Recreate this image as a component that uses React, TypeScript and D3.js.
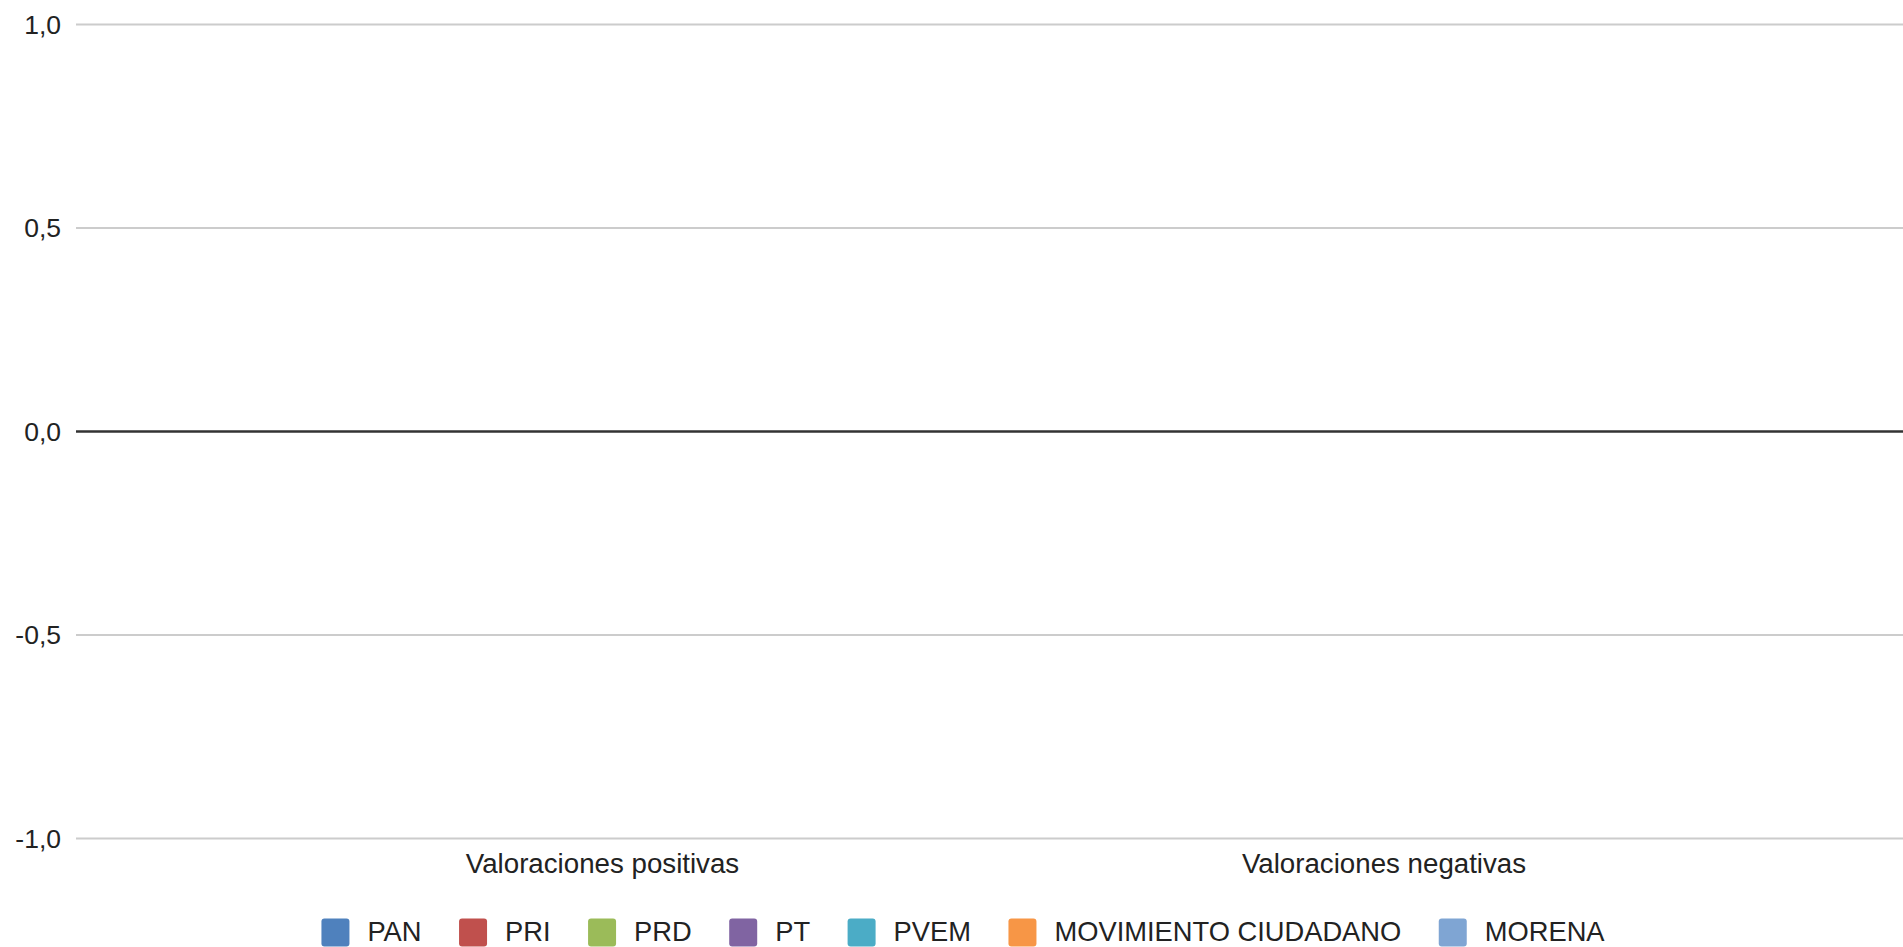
import React, { useEffect, useRef } from 'react';
import * as d3 from 'd3';

// categories (the chart has no bar values: all series are empty)
const categories = ['Valoraciones positivas', 'Valoraciones negativas'];
const parties = ['PAN', 'PRI', 'PRD', 'PT', 'PVEM', 'MOVIMIENTO CIUDADANO', 'MORENA'];
const partyColors = ['#4f81bd', '#c0504d', '#9bbb59', '#8064a2', '#4bacc6', '#f79646', '#7fa5d3'];
const yTicks = [-1, -0.5, 0, 0.5, 1];

const W = 1903;
const H = 947;
const FONT = '"Liberation Sans", Arial, sans-serif';

const App = () => {
  const svgRef = useRef<SVGSVGElement>(null);

  useEffect(() => {
    const svg = d3.select(svgRef.current);
    svg.selectAll('*').remove();

    const plotLeft = 76;
    const plotRight = W;

    const y = d3.scaleLinear().domain([-1, 1]).range([838.5, 24.5]);
    const x = d3.scalePoint<string>().domain(categories).range([602.5, 1384]);

    // horizontal gridlines
    svg.append('g')
      .selectAll('line')
      .data(yTicks.filter(t => t !== 0))
      .enter().append('line')
      .attr('x1', plotLeft)
      .attr('x2', plotRight)
      .attr('y1', d => y(d))
      .attr('y2', d => y(d))
      .attr('stroke', '#cccccc')
      .attr('stroke-width', 2);

    // y tick labels
    const fmt = (v: number) => d3.format('.1f')(v).replace('.', ',').replace('−', '-');
    svg.append('g')
      .selectAll('text')
      .data(yTicks)
      .enter().append('text')
      .attr('x', 61)
      .attr('y', d => y(d))
      .attr('dy', '0.35em')
      .attr('text-anchor', 'end')
      .attr('font-family', FONT)
      .attr('font-size', 26.5)
      .attr('fill', '#222')
      .text(d => fmt(d));

    // baseline at zero
    svg.append('line')
      .attr('x1', plotLeft)
      .attr('x2', plotRight)
      .attr('y1', y(0))
      .attr('y2', y(0))
      .attr('stroke', '#333')
      .attr('stroke-width', 2.5);

    // category labels
    svg.append('g')
      .selectAll('text')
      .data(categories)
      .enter().append('text')
      .attr('x', d => x(d) as number)
      .attr('y', 873)
      .attr('text-anchor', 'middle')
      .attr('font-family', FONT)
      .attr('font-size', 27.7)
      .attr('fill', '#222')
      .text(d => d);

    // legend
    const legend = svg.append('g');
    const sw = 28;
    const gap = 37.5;
    let cursor = 0;
    parties.forEach((p, i) => {
      const item = legend.append('g').attr('transform', `translate(${cursor},0)`);
      item.append('rect')
        .attr('x', 0)
        .attr('y', 918.5)
        .attr('width', sw)
        .attr('height', sw)
        .attr('rx', 3)
        .attr('fill', partyColors[i]);
      const t = item.append('text')
        .attr('x', sw + 18)
        .attr('y', 941)
        .attr('font-family', FONT)
        .attr('font-size', 27.3)
        .attr('fill', '#222')
        .text(p);
      const tw = (t.node() as SVGTextElement).getComputedTextLength();
      cursor += sw + 18 + tw + gap;
    });
    const total = cursor - gap;
    legend.attr('transform', `translate(${963 - total / 2},0)`);
  }, []);

  return (
    <svg
      ref={svgRef}
      width={W}
      height={H}
      style={{ position: 'absolute', left: 0, top: 0, background: '#fff' }}
    />
  );
};

export default App;
